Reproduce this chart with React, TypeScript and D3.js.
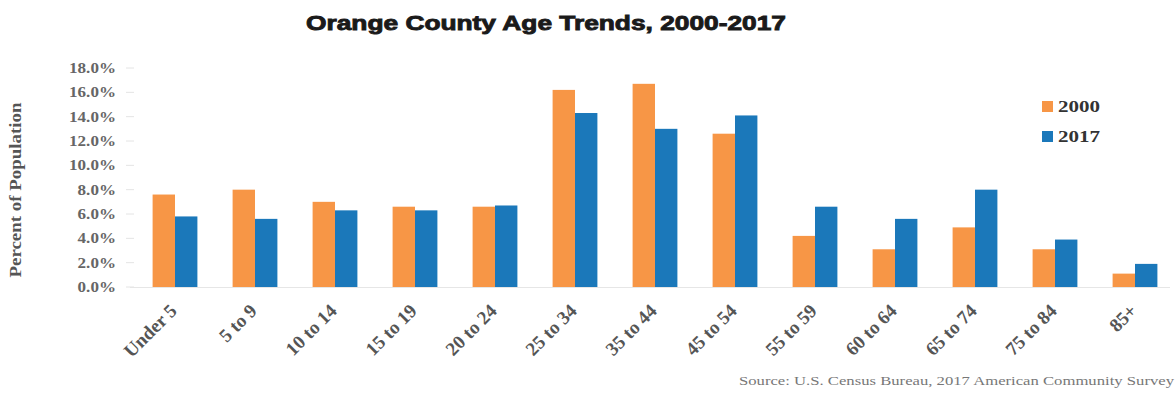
import React from "react";
import * as d3 from "d3";

const categories = ["Under 5", "5 to 9", "10 to 14", "15 to 19", "20 to 24", "25 to 34", "35 to 44", "45 to 54", "55 to 59", "60 to 64", "65 to 74", "75 to 84", "85+"];
const values2000 = [7.6, 8.0, 7.0, 6.6, 6.6, 16.2, 16.7, 12.6, 4.2, 3.1, 4.9, 3.1, 1.1];
const values2017 = [5.8, 5.6, 6.3, 6.3, 6.7, 14.3, 13.0, 14.1, 6.6, 5.6, 8.0, 3.9, 1.9];
const seriesNames = ["2000", "2017"];
const yTicks = [0, 2, 4, 6, 8, 10, 12, 14, 16, 18];

const W = 1176;
const H = 394;
const colors = ["#F79646", "#1B78BA"];
const serif = "'Liberation Serif', 'DejaVu Serif', serif";

export default function App() {
  const x = d3.scaleBand<string>().domain(categories).range([135, 1175]).paddingInner(0.44).paddingOuter(0.22);
  const xs = d3.scaleBand<string>().domain(seriesNames).range([0, x.bandwidth()]);
  const y = d3.scaleLinear().domain([0, 18]).range([287, 68]);
  const series = [values2000, values2017];

  return (
    <svg width={W} height={H} style={{ position: "absolute", left: 0, top: 0, background: "#fff" }}>
      <text x={546} y={30} textAnchor="middle" fontFamily="'Liberation Sans', Arial, sans-serif" fontWeight={900} fontSize={21} fill="#1a1a1a" stroke="#1a1a1a" strokeWidth={0.9} textLength={480} lengthAdjust="spacingAndGlyphs">
        Orange County Age Trends, 2000-2017
      </text>

      <text transform={`translate(21,${190}) rotate(-90)`} textAnchor="middle" fontFamily={serif} fontWeight={700} fontSize={16} fill="#555" textLength={175} lengthAdjust="spacingAndGlyphs">
        Percent of Population
      </text>

      {yTicks.map((t) => (
        <g key={t}>
          <g transform={`translate(116,${y(t) + 5}) scale(1.22,1)`}>
            <text x={0} y={0} textAnchor="end" fontFamily={serif} fontWeight={700} fontSize={14} fill="#666">
              {t.toFixed(1) + "%"}
            </text>
          </g>
          <line x1={126} x2={134} y1={y(t)} y2={y(t)} stroke="#e4e4e4" strokeWidth={1} />
        </g>
      ))}

      <line x1={130} x2={1170} y1={y(0) + 0.5} y2={y(0) + 0.5} stroke="#e6e6e6" strokeWidth={1} />

      {series.map((vals, si) =>
        vals.map((v, i) => (
          <rect
            key={`${si}-${i}`}
            x={(x(categories[i]) ?? 0) + (xs(seriesNames[si]) ?? 0)}
            y={y(v)}
            width={xs.bandwidth()}
            height={y(0) - y(v)}
            fill={colors[si]}
          />
        ))
      )}

      {categories.map((c) => {
        const cx = (x(c) ?? 0) + x.bandwidth() / 2 + 3;
        return (
          <text key={c} transform={`translate(${cx},${312}) rotate(-45)`} textAnchor="end" fontFamily={serif} fontWeight={700} fontSize={19} fill="#555">
            {c}
          </text>
        );
      })}

      {seriesNames.map((s, i) => (
        <g key={s} transform={`translate(1042,${107 + i * 30})`}>
          <rect x={0} y={-6} width={11} height={11} fill={colors[i]} />
          <text x={16} y={5} fontFamily={serif} fontWeight={700} fontSize={16} fill="#333" textLength={42} lengthAdjust="spacingAndGlyphs">
            {s}
          </text>
        </g>
      ))}

      <text x={1174} y={385} textAnchor="end" fontFamily={serif} fontSize={13} fill="#777" textLength={435} lengthAdjust="spacingAndGlyphs">
        Source: U.S. Census Bureau, 2017 American Community Survey
      </text>
    </svg>
  );
}
